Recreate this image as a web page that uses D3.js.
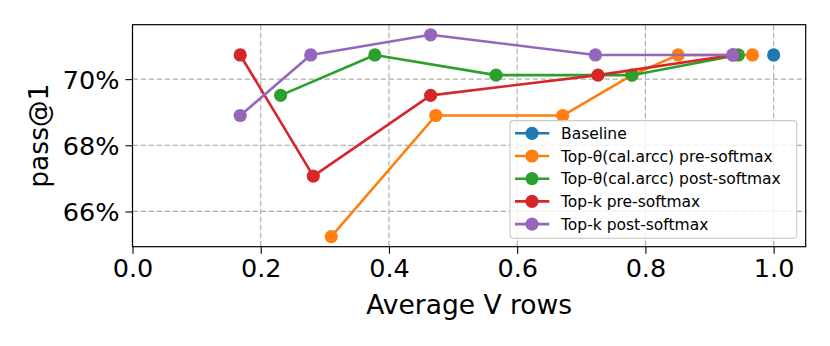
<!DOCTYPE html>
<html>
<head>
<meta charset="utf-8">
<script src="https://cdn.jsdelivr.net/npm/d3@7"></script>
<style>
  body { margin: 0; background: #fff; }
  svg { display: block; font-family: "DejaVu Sans", sans-serif; }
</style>
</head>
<body>
<div id="chart"></div>
<script>
// Series names (legend order = draw order)
const seriesNames = [
  'Baseline',
  'Top-θ(cal.arcc) pre-softmax',
  'Top-θ(cal.arcc) post-softmax',
  'Top-k pre-softmax',
  'Top-k post-softmax'
];
const seriesColors = ['#1f77b4', '#ff7f0e', '#2ca02c', '#d62728', '#9467bd'];

// Average V rows (x) and pass@1 in % (y)
const baselineX = [1.0];
const baselineY = [70.73];
const thetaPreX = [0.310, 0.473, 0.671, 0.779, 0.851, 0.967];
const thetaPreY = [65.24, 68.90, 68.90, 70.12, 70.73, 70.73];
const thetaPostX = [0.231, 0.378, 0.567, 0.779, 0.945];
const thetaPostY = [69.51, 70.73, 70.12, 70.12, 70.73];
const topkPreX = [0.168, 0.282, 0.465, 0.726, 0.937];
const topkPreY = [70.73, 67.07, 69.51, 70.12, 70.73];
const topkPostX = [0.168, 0.278, 0.465, 0.722, 0.936];
const topkPostY = [68.90, 70.73, 71.34, 70.73, 70.73];

// Tick labels
const xTicks = [0.0, 0.2, 0.4, 0.6, 0.8, 1.0];
const yTicks = [66, 68, 70];

const allX = [baselineX, thetaPreX, thetaPostX, topkPreX, topkPostX];
const allY = [baselineY, thetaPreY, thetaPostY, topkPreY, topkPostY];

const width = 830, height = 346;
const margin = { top: 24.7, right: 24.3, bottom: 99.3, left: 132.5 };
const innerW = width - margin.left - margin.right;
const innerH = height - margin.top - margin.bottom;

const svg = d3.select('#chart').append('svg')
  .attr('width', width)
  .attr('height', height);

const g = svg.append('g')
  .attr('transform', `translate(${margin.left},${margin.top})`);

// Scales (y padded 5% like the original plotting lib)
const yExt = d3.extent(allY.flat());
const yPad = (yExt[1] - yExt[0]) * 0.05;
const x = d3.scaleLinear().domain([0, 1.05]).range([0, innerW]);
const y = d3.scaleLinear().domain([yExt[0] - yPad, yExt[1] + yPad]).range([innerH, 0]);

// Grid
const grid = g.append('g').attr('class', 'grid');
grid.selectAll('line.gx').data(xTicks).enter().append('line')
  .attr('x1', d => x(d)).attr('x2', d => x(d))
  .attr('y1', 0).attr('y2', innerH)
  .attr('stroke', '#b0b0b0').attr('stroke-width', 1.2)
  .attr('stroke-dasharray', '5.5,2.5');
grid.selectAll('line.gy').data(yTicks).enter().append('line')
  .attr('x1', 0).attr('x2', innerW)
  .attr('y1', d => y(d)).attr('y2', d => y(d))
  .attr('stroke', '#b0b0b0').attr('stroke-width', 1.2)
  .attr('stroke-dasharray', '5.5,2.5');

// Axes
const xAxis = g.append('g')
  .attr('transform', `translate(0,${innerH})`)
  .call(d3.axisBottom(x).tickValues(xTicks).tickFormat(d3.format('.1f')).tickSizeInner(7).tickSizeOuter(0).tickPadding(5));
const yAxis = g.append('g')
  .call(d3.axisLeft(y).tickValues(yTicks).tickFormat(d => d + '%').tickSizeInner(7).tickSizeOuter(0).tickPadding(6));

[xAxis, yAxis].forEach(ax => {
  ax.select('.domain').remove();
  ax.selectAll('.tick line').attr('stroke', '#000').attr('stroke-width', 1.1);
  ax.selectAll('.tick text')
    .attr('font-family', '"DejaVu Sans", sans-serif')
    .attr('font-size', 25.5)
    .attr('fill', '#000');
});
yAxis.selectAll('.tick text').attr('dy', '0.36em');

// Series lines and markers
const line = d3.line().x(d => x(d[0])).y(d => y(d[1]));
allX.forEach((xs, i) => {
  const pts = xs.map((v, j) => [v, allY[i][j]]);
  const sg = g.append('g');
  sg.append('path')
    .datum(pts)
    .attr('d', line)
    .attr('fill', 'none')
    .attr('stroke', seriesColors[i])
    .attr('stroke-width', 2.6)
    .attr('stroke-linejoin', 'round');
  sg.selectAll('circle').data(pts).enter().append('circle')
    .attr('cx', d => x(d[0]))
    .attr('cy', d => y(d[1]))
    .attr('r', 6.6)
    .attr('fill', seriesColors[i]);
});

// Frame
g.append('rect')
  .attr('width', innerW).attr('height', innerH)
  .attr('fill', 'none').attr('stroke', '#000').attr('stroke-width', 1.2);

// Axis labels
svg.append('text')
  .attr('x', margin.left + x(0.525))
  .attr('y', 314)
  .attr('text-anchor', 'middle')
  .attr('font-size', 26.5)
  .text('Average V rows');
svg.append('text')
  .attr('transform', `translate(47.5,${margin.top + innerH / 2}) rotate(-90)`)
  .attr('text-anchor', 'middle')
  .attr('font-size', 26.5)
  .text('pass@1');

// Legend
const legend = svg.append('g').attr('transform', 'translate(510,120.7)');
legend.append('rect')
  .attr('width', 286.7).attr('height', 117.6)
  .attr('rx', 3.5)
  .attr('fill', '#fff').attr('fill-opacity', 0.8)
  .attr('stroke', '#cccccc').attr('stroke-width', 1.2);
const items = legend.selectAll('g.item').data(seriesNames).enter().append('g')
  .attr('transform', (d, i) => `translate(0,${12.6 + i * 22.7})`);
items.append('line')
  .attr('x1', 5).attr('x2', 39.3)
  .attr('stroke', (d, i) => seriesColors[i]).attr('stroke-width', 2.6);
items.append('circle')
  .attr('cx', 22).attr('r', 6.6)
  .attr('fill', (d, i) => seriesColors[i]);
items.append('text')
  .attr('x', 51).attr('y', 5.6)
  .attr('font-size', 15.5)
  .text(d => d);
</script>
</body>
</html>
